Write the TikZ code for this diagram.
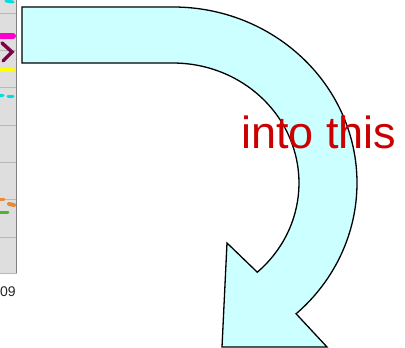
\documentclass[tikz,border=0pt]{standalone}
\usepackage{fontspec}
\setmainfont{Liberation Sans}
\definecolor{arrowfill}{RGB}{204,255,255}
\definecolor{labelred}{RGB}{204,0,0}
\definecolor{stripgray}{RGB}{222,222,222}
\definecolor{mkmagenta}{RGB}{255,0,204}
\definecolor{mkpurple}{RGB}{128,0,72}
\definecolor{mkyellow}{RGB}{255,255,0}
\definecolor{mkcyan}{RGB}{0,221,221}
\definecolor{mkorange}{RGB}{235,140,50}
\definecolor{mkgreen}{RGB}{80,180,50}
\tikzset{
  arrowshape/.style={draw=black, line width=1.3pt, fill=arrowfill, line join=miter},
  gridline/.style={draw=gray!55, line width=0.8pt},
  mark line/.style={line cap=round, line width=#1},
}
\begin{document}
\begin{tikzpicture}[x=1pt,y=1pt]
\useasboundingbox (0,0) rectangle (405,348);
% left strip
\fill[stripgray] (0,75) rectangle (16.5,348);
\foreach \yy in {335,298,261,223,186,149,111,75}
  \draw[gridline] (0,\yy) -- (16.5,\yy);
\draw[draw=gray, line width=1pt] (16.5,75) -- (16.5,348);
% colored marks
\draw[mark line=3pt, mkcyan] (6,347) -- (13,346);
\draw[mark line=6pt, mkmagenta] (1,312) -- (13,312);
\draw[mark line=3.5pt, mkpurple, line join=miter] (2,305) -- (12,296) -- (3,287);
\draw[mark line=4pt, mkyellow] (1,278) -- (13,278);
\draw[mark line=3pt, mkcyan] (0,252) -- (3,252);
\draw[mark line=3pt, mkcyan] (8,251) -- (13,251);
\draw[mark line=3pt, mkorange] (0,148) -- (4,148);
\draw[mark line=4pt, mkorange!85!brown] (9,144) -- (14,143);
\draw[mark line=3pt, mkgreen] (0,135) -- (8,135);
\node[anchor=base west, inner sep=0pt, text=black!85, font=\fontsize{14}{16}\selectfont] (yr) at (0,51) {09};
% curved arrow
\draw[arrowshape] (22,341) coordinate (topleft) -- (173,341)
  arc[start angle=90, end angle=-48, x radius=184, y radius=176]
  -- (327,1) coordinate (barbout) -- (222,1) coordinate (tip) -- (227,105) coordinate (barbin)
  -- (257.3,75.8)
  arc[start angle=-48, end angle=90, x radius=126, y radius=120]
  -- (22,285) -- cycle;
% label
\node[anchor=base west, inner sep=0pt, text=labelred, font=\fontsize{45}{50}\selectfont] (lbl) at (241,199) {into this};
\end{tikzpicture}
\end{document}
